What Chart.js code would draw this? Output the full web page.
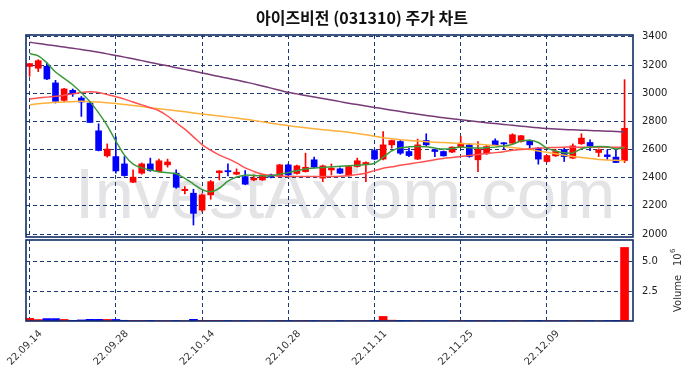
<!DOCTYPE html>
<html>
<head>
<meta charset="utf-8">
<script src="https://cdn.jsdelivr.net/npm/chart.js@4.4.0/dist/chart.umd.min.js"></script>
<style>
  html, body { margin: 0; padding: 0; background: #fff; }
  #wrap { position: relative; width: 690px; height: 378px; }
  #priceChart { position: absolute; left: 0; top: 0; }
  #volChart { position: absolute; left: 0; top: 238px; }
</style>
</head>
<body>
<div id="wrap">
  <canvas id="priceChart" width="690" height="240"></canvas>
  <canvas id="volChart" width="690" height="140"></canvas>
</div>
<script>
// trading days (yy.mm.dd)
const dates = [
  '22.09.14','22.09.15','22.09.16','22.09.19','22.09.20','22.09.21','22.09.22','22.09.23','22.09.26','22.09.27','22.09.28','22.09.29','22.09.30',
  '22.10.04','22.10.05','22.10.06','22.10.07','22.10.11','22.10.12','22.10.13','22.10.14','22.10.17','22.10.18','22.10.19','22.10.20','22.10.21',
  '22.10.24','22.10.25','22.10.26','22.10.27','22.10.28','22.10.31',
  '22.11.01','22.11.02','22.11.03','22.11.04','22.11.07','22.11.08','22.11.09','22.11.10','22.11.11','22.11.14','22.11.15','22.11.16','22.11.17',
  '22.11.18','22.11.21','22.11.22','22.11.23','22.11.24','22.11.25','22.11.28','22.11.29','22.11.30',
  '22.12.01','22.12.02','22.12.05','22.12.06','22.12.07','22.12.08','22.12.09','22.12.12','22.12.13','22.12.14','22.12.15','22.12.16',
  '22.12.19','22.12.20','22.12.21','22.12.22'
];

const opens = [3190,3177,3191,3073,2949,3020,2966,2930,2733,2555, 2550,2498,2368,2432,2498,2443,2491,2432,2308,2290,
  2170,2278,2436,2450,2425,2408,2384,2384,2420,2410, 2491,2430,2443,2527,2397,2455,2463,2413,2479,2498,
  2593,2532,2633,2657,2586,2532,2664,2598,2586,2582, 2620,2633,2527,2570,2662,2648,2645,2657,2662,2610,
  2515,2555,2598,2539,2641,2650,2579,2562,2546,2522];
const highs = [3212,3238,3215,3091,3035,3030,2977,2940,2783,2640, 2690,2550,2456,2505,2539,2532,2532,2456,2337,2318,
  2285,2380,2450,2498,2463,2451,2420,2425,2425,2495, 2498,2490,2574,2546,2490,2498,2470,2485,2539,2512,
  2600,2728,2668,2670,2610,2674,2712,2602,2590,2620, 2693,2640,2657,2628,2676,2650,2712,2700,2668,2615,
  2560,2602,2610,2640,2712,2669,2605,2598,2598,3096];
const lows = [3120,3153,3095,2930,2940,2977,2835,2790,2590,2546, 2432,2410,2365,2425,2445,2440,2475,2325,2285,2064,
  2160,2247,2384,2413,2420,2350,2378,2380,2398,2405, 2415,2425,2440,2470,2372,2420,2428,2410,2475,2372,
  2527,2527,2610,2565,2550,2528,2628,2550,2553,2578, 2615,2545,2443,2565,2628,2602,2640,2652,2603,2496,
  2510,2550,2515,2535,2636,2591,2550,2527,2506,2507];
const closes = [3210,3231,3101,2942,3030,2996,2937,2792,2593,2603, 2448,2415,2404,2498,2451,2520,2512,2332,2318,2147,
  2278,2372,2448,2442,2439,2354,2396,2420,2404,2491, 2420,2484,2474,2475,2484,2467,2432,2479,2520,2508,
  2532,2633,2664,2574,2557,2633,2633,2586,2555,2617, 2645,2550,2603,2621,2631,2640,2705,2698,2633,2532,
  2557,2586,2550,2626,2681,2626,2598,2550,2508,2751];
// volume in millions of shares
const volumes = [0.22,0.12,0.2,0.2,0.13,0.05,0.09,0.14,0.14,0.13, 0.13,0.06,0.05,0.05,0.05,0.04,0.04,0.04,0.03,0.14,
  0.06,0.05,0.05,0.04,0.04,0.04,0.03,0.04,0.03,0.05, 0.04,0.04,0.05,0.04,0.04,0.03,0.04,0.03,0.04,0.04,
  0.05,0.38,0.07,0.05,0.04,0.04,0.04,0.03,0.03,0.04, 0.04,0.04,0.05,0.04,0.04,0.03,0.05,0.04,0.04,0.05,
  0.04,0.04,0.04,0.04,0.05,0.04,0.03,0.04,0.05,6.13];

// moving averages
const ma5 = [3281,3265,3215,3150,3105,3060,3003,2940,2860,2770, 2660,2560,2497,2470,2455,2443,2435,2428,2395,2355,
  2315,2300,2325,2375,2405,2418,2415,2413,2413,2425, 2436,2450,2462,2468,2473,2478,2481,2484,2488,2493,
  2503,2545,2590,2612,2619,2621,2619,2610,2603,2607, 2618,2612,2610,2613,2617,2625,2638,2660,2666,2650,
  2610,2590,2577,2576,2605,2618,2621,2619,2603,2615];
const ma20 = [2958,2965,2972,2978,2985,2995,3005,3010,3005,2990, 2975,2958,2937,2917,2897,2875,2838,2790,2745,2690,
  2635,2595,2560,2535,2505,2470,2445,2425,2417,2412, 2408,2408,2408,2408,2408,2408,2410,2415,2422,2432,
  2450,2467,2477,2488,2497,2507,2517,2527,2537,2543, 2550,2557,2564,2572,2578,2585,2594,2600,2605,2610,
  2612,2615,2617,2617,2617,2617,2617,2617,2617,2617];
const ma60 = [2918,2925,2930,2935,2938,2940,2942,2940,2937,2932, 2927,2920,2912,2905,2897,2890,2883,2876,2868,2860,
  2852,2845,2838,2830,2823,2815,2806,2797,2787,2778, 2769,2762,2755,2748,2741,2735,2729,2722,2714,2705,
  2694,2684,2676,2669,2664,2660,2656,2652,2649,2646, 2643,2640,2637,2633,2628,2622,2615,2608,2600,2590,
  2580,2570,2560,2551,2543,2536,2530,2526,2523,2521];
const ma120 = [3361,3353,3344,3336,3327,3319,3310,3301,3290,3279, 3268,3256,3244,3231,3218,3206,3194,3181,3169,3157,
  3144,3131,3118,3106,3093,3080,3066,3051,3036,3021, 3006,2995,2984,2973,2962,2951,2940,2929,2919,2909,
  2899,2889,2879,2870,2860,2850,2842,2834,2826,2819, 2811,2804,2797,2790,2784,2778,2772,2766,2760,2754,
  2749,2745,2742,2740,2737,2735,2733,2730,2728,2726];

const priceTicks = [2000, 2200, 2400, 2600, 2800, 3000, 3200, 3400];
const volTicks = [2.5, 5.0];
const dateTickIdx = [0, 10, 20, 30, 40, 50, 60];

const upColor = '#ff0000';
const downColor = '#0000ff';
const frameColor = '#112d68';
const gridColor = '#1d3a78';
const tickFont = { family: '"DejaVu Sans", sans-serif', size: 10 };

const idx = dates.map((d, i) => i);
const candleColors = idx.map(i => closes[i] >= opens[i] ? upColor : downColor);
const xMin = -0.42, xMax = 69.98;

// drop the label padding chart.js reserves around the plot
const noPad = h => s => {
  s.paddingTop = 0; s.paddingBottom = 0; s.paddingLeft = 0; s.paddingRight = 0;
  if (s.isHorizontal()) s.height = h; else s.width = h;
};

const xGrid = (showLabels) => ({
  type: 'linear',
  min: xMin,
  max: xMax,
  offset: false,
  afterBuildTicks: s => { s.ticks = dateTickIdx.map(v => ({ value: v })); },
  afterFit: noPad(showLabels ? 57 : 0),
  grid: { color: gridColor, lineWidth: 1, drawTicks: false, offset: false },
  border: { display: false, dash: [4, 3] },
  ticks: showLabels
    ? { display: true, autoSkip: false, maxRotation: 45, minRotation: 45, padding: 7, labelOffset: 11,
        font: tickFont, color: '#333', callback: v => dates[v] }
    : { display: false }
});

const decor = {
  id: 'decor',
  beforeDraw(chart, args, opts) {
    const ctx = chart.ctx;
    ctx.save();
    if (opts.title) {
      ctx.fillStyle = '#111';
      ctx.font = 'bold 16px "Noto Sans CJK KR", sans-serif';
      ctx.textAlign = 'center';
      ctx.textBaseline = 'middle';
      ctx.fillText(opts.title, 362, 18);
    }
    if (opts.watermark) {
      ctx.fillStyle = '#e4e4e7';
      ctx.font = '71px "Liberation Sans", Arial, sans-serif';
      ctx.textAlign = 'center';
      ctx.textBaseline = 'alphabetic';
      ctx.fillText(opts.watermark, 345, 218);
    }
    ctx.restore();
  },
  afterDatasetsDraw(chart, args, opts) {
    const { ctx, chartArea: a } = chart;
    ctx.save();
    ctx.strokeStyle = frameColor;
    ctx.lineWidth = 1.6;
    ctx.strokeRect(a.left, a.top, a.right - a.left, a.bottom - a.top);
    if (opts.volTitle) {
      ctx.fillStyle = '#333';
      ctx.translate(678, 74);
      ctx.rotate(-Math.PI / 2);
      ctx.textBaseline = 'middle';
      ctx.textAlign = 'left';
      ctx.font = '10px "DejaVu Sans", sans-serif';
      ctx.fillText('Volume', 0, 0);
      ctx.fillText('10', 46, 0);
      ctx.font = '7px "DejaVu Sans", sans-serif';
      ctx.fillText('6', 59, -5);
    }
    ctx.restore();
  }
};

new Chart(document.getElementById('priceChart').getContext('2d'), {
  type: 'bar',
  data: {
    datasets: [
      { type: 'line', label: 'MA5', data: idx.map(i => ({ x: i, y: ma5[i] })), borderColor: '#3a9a3a', borderWidth: 1.5, pointRadius: 0, tension: 0.3, order: 0 },
      { type: 'line', label: 'MA20', data: idx.map(i => ({ x: i, y: ma20[i] })), borderColor: '#ff5050', borderWidth: 1.5, pointRadius: 0, tension: 0.3, order: 0 },
      { type: 'line', label: 'MA60', data: idx.map(i => ({ x: i, y: ma60[i] })), borderColor: '#ffb03a', borderWidth: 1.5, pointRadius: 0, tension: 0.3, order: 0 },
      { type: 'line', label: 'MA120', data: idx.map(i => ({ x: i, y: ma120[i] })), borderColor: '#763a76', borderWidth: 1.5, pointRadius: 0, tension: 0.3, order: 0 },
      { label: 'body', data: idx.map(i => ({ x: i, y: [opens[i], closes[i]] })), backgroundColor: candleColors, barThickness: 6, grouped: false, order: 1 },
      { label: 'wick', data: idx.map(i => ({ x: i, y: [lows[i], highs[i]] })), backgroundColor: candleColors, barThickness: 1, grouped: false, order: 2 }
    ]
  },
  options: {
    responsive: false,
    animation: false,
    layout: { padding: { left: 26, top: 35, bottom: 3, right: 0 } },
    plugins: {
      legend: { display: false },
      tooltip: { enabled: false },
      decor: { title: '아이즈비전 (031310) 주가 차트', watermark: 'InvestAxiom.com' }
    },
    scales: {
      x: xGrid(false),
      y: {
        position: 'right',
        min: 1979,
        max: 3413,
        afterBuildTicks: s => { s.ticks = priceTicks.map(v => ({ value: v })); },
        afterFit: noPad(57),
        grid: { color: gridColor, drawTicks: false },
        border: { display: false, dash: [4, 3] },
        ticks: { padding: 9, font: tickFont, color: '#222', callback: v => String(v) }
      }
    }
  },
  plugins: [decor]
});

new Chart(document.getElementById('volChart').getContext('2d'), {
  type: 'bar',
  data: {
    datasets: [
      { label: 'Volume', data: idx.map(i => ({ x: i, y: volumes[i] })), backgroundColor: candleColors, barThickness: 8, grouped: false }
    ]
  },
  options: {
    responsive: false,
    animation: false,
    layout: { padding: { left: 26, top: 2, bottom: 0, right: 0 } },
    plugins: {
      legend: { display: false },
      tooltip: { enabled: false },
      decor: { volTitle: true }
    },
    scales: {
      x: xGrid(true),
      y: {
        position: 'right',
        min: 0,
        max: 6.75,
        afterBuildTicks: s => { s.ticks = volTicks.map(v => ({ value: v })); },
        afterFit: noPad(57),
        grid: { color: gridColor, drawTicks: false },
        border: { display: false, dash: [4, 3] },
        ticks: { padding: 9, font: tickFont, color: '#222', callback: v => v.toFixed(1) }
      }
    }
  },
  plugins: [decor]
});
</script>
</body>
</html>
